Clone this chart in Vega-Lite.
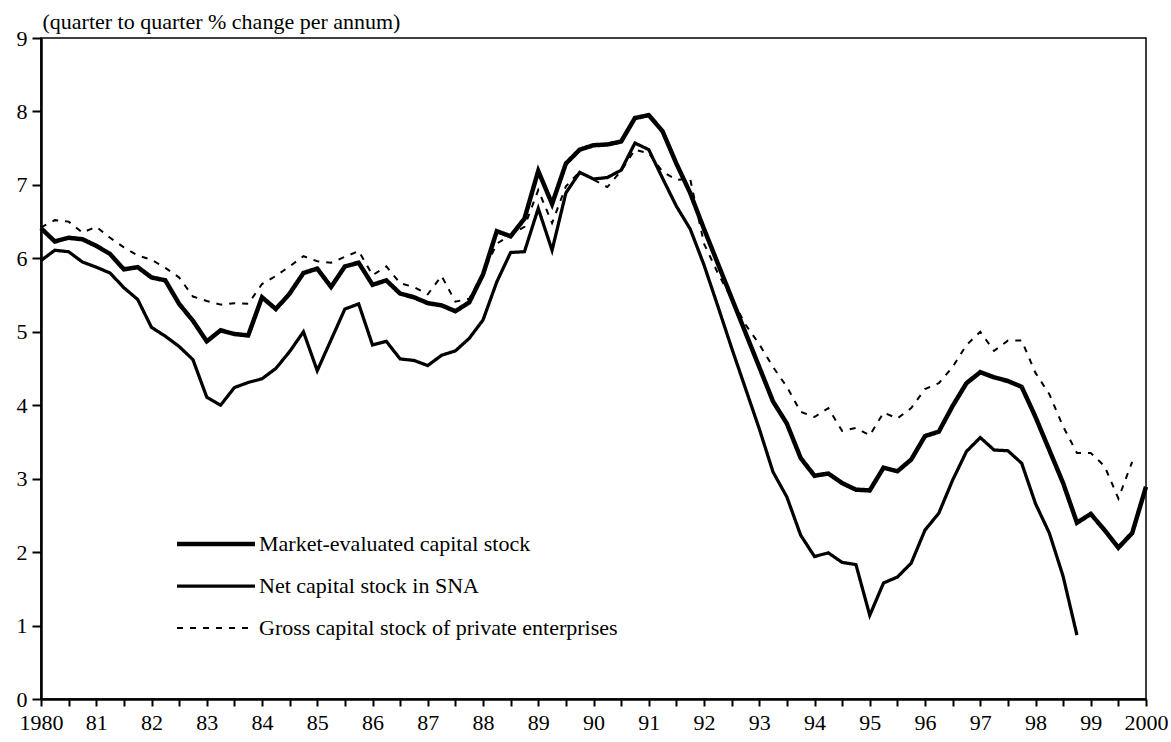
{
  "$schema": "https://vega.github.io/schema/vega-lite/v6.json",
  "width": 1105,
  "height": 661,
  "autosize": {"type": "none"},
  "padding": {"left": 41, "top": 38, "right": 25, "bottom": 43},
  "background": "white",
  "data": {
    "values": [
      {"t": 1980, "m": 6.41, "n": 5.97, "g": 6.42},
      {"t": 1980.25, "m": 6.23, "n": 6.11, "g": 6.52},
      {"t": 1980.5, "m": 6.28, "n": 6.09, "g": 6.50},
      {"t": 1980.75, "m": 6.26, "n": 5.95, "g": 6.35},
      {"t": 1981, "m": 6.17, "n": 5.88, "g": 6.43},
      {"t": 1981.25, "m": 6.06, "n": 5.80, "g": 6.28},
      {"t": 1981.5, "m": 5.85, "n": 5.60, "g": 6.15},
      {"t": 1981.75, "m": 5.88, "n": 5.44, "g": 6.04},
      {"t": 1982, "m": 5.74, "n": 5.06, "g": 5.98},
      {"t": 1982.25, "m": 5.70, "n": 4.94, "g": 5.87},
      {"t": 1982.5, "m": 5.38, "n": 4.80, "g": 5.74},
      {"t": 1982.75, "m": 5.15, "n": 4.62, "g": 5.48},
      {"t": 1983, "m": 4.87, "n": 4.11, "g": 5.42},
      {"t": 1983.25, "m": 5.02, "n": 4.00, "g": 5.37},
      {"t": 1983.5, "m": 4.97, "n": 4.24, "g": 5.39},
      {"t": 1983.75, "m": 4.95, "n": 4.31, "g": 5.38},
      {"t": 1984, "m": 5.47, "n": 4.36, "g": 5.65},
      {"t": 1984.25, "m": 5.31, "n": 4.50, "g": 5.76},
      {"t": 1984.5, "m": 5.52, "n": 4.73, "g": 5.89},
      {"t": 1984.75, "m": 5.80, "n": 5.00, "g": 6.03},
      {"t": 1985, "m": 5.86, "n": 4.47, "g": 5.96},
      {"t": 1985.25, "m": 5.61, "n": 4.89, "g": 5.94},
      {"t": 1985.5, "m": 5.89, "n": 5.31, "g": 6.02},
      {"t": 1985.75, "m": 5.94, "n": 5.38, "g": 6.10},
      {"t": 1986, "m": 5.64, "n": 4.82, "g": 5.77},
      {"t": 1986.25, "m": 5.70, "n": 4.87, "g": 5.89},
      {"t": 1986.5, "m": 5.52, "n": 4.63, "g": 5.66},
      {"t": 1986.75, "m": 5.47, "n": 4.61, "g": 5.61},
      {"t": 1987, "m": 5.39, "n": 4.54, "g": 5.51},
      {"t": 1987.25, "m": 5.36, "n": 4.68, "g": 5.76},
      {"t": 1987.5, "m": 5.28, "n": 4.74, "g": 5.41},
      {"t": 1987.75, "m": 5.40, "n": 4.91, "g": 5.45},
      {"t": 1988, "m": 5.78, "n": 5.16, "g": 5.80},
      {"t": 1988.25, "m": 6.37, "n": 5.68, "g": 6.20},
      {"t": 1988.5, "m": 6.30, "n": 6.08, "g": 6.32},
      {"t": 1988.75, "m": 6.54, "n": 6.09, "g": 6.43},
      {"t": 1989, "m": 7.19, "n": 6.68, "g": 6.93},
      {"t": 1989.25, "m": 6.74, "n": 6.11, "g": 6.48},
      {"t": 1989.5, "m": 7.29, "n": 6.89, "g": 6.98},
      {"t": 1989.75, "m": 7.48, "n": 7.17, "g": 7.18},
      {"t": 1990, "m": 7.54, "n": 7.08, "g": 7.07},
      {"t": 1990.25, "m": 7.55, "n": 7.10, "g": 6.97},
      {"t": 1990.5, "m": 7.59, "n": 7.20, "g": 7.19},
      {"t": 1990.75, "m": 7.91, "n": 7.57, "g": 7.48},
      {"t": 1991, "m": 7.95, "n": 7.48, "g": 7.43},
      {"t": 1991.25, "m": 7.73, "n": 7.09, "g": 7.18},
      {"t": 1991.5, "m": 7.29, "n": 6.71, "g": 7.07},
      {"t": 1991.75, "m": 6.89, "n": 6.40, "g": 7.08},
      {"t": 1992, "m": 6.40, "n": 5.91, "g": 6.20},
      {"t": 1992.25, "m": 5.93, "n": 5.35, "g": 5.80},
      {"t": 1992.5, "m": 5.46, "n": 4.78, "g": 5.45},
      {"t": 1992.75, "m": 4.99, "n": 4.23, "g": 5.10},
      {"t": 1993, "m": 4.52, "n": 3.68, "g": 4.83},
      {"t": 1993.25, "m": 4.05, "n": 3.09, "g": 4.52},
      {"t": 1993.5, "m": 3.75, "n": 2.75, "g": 4.25},
      {"t": 1993.75, "m": 3.28, "n": 2.23, "g": 3.91},
      {"t": 1994, "m": 3.04, "n": 1.94, "g": 3.84},
      {"t": 1994.25, "m": 3.07, "n": 1.99, "g": 3.96},
      {"t": 1994.5, "m": 2.94, "n": 1.86, "g": 3.65},
      {"t": 1994.75, "m": 2.85, "n": 1.83, "g": 3.69},
      {"t": 1995, "m": 2.84, "n": 1.14, "g": 3.59},
      {"t": 1995.25, "m": 3.15, "n": 1.58, "g": 3.90},
      {"t": 1995.5, "m": 3.10, "n": 1.66, "g": 3.82},
      {"t": 1995.75, "m": 3.26, "n": 1.85, "g": 3.96},
      {"t": 1996, "m": 3.58, "n": 2.30, "g": 4.22},
      {"t": 1996.25, "m": 3.64, "n": 2.53, "g": 4.30},
      {"t": 1996.5, "m": 3.99, "n": 2.98, "g": 4.52},
      {"t": 1996.75, "m": 4.30, "n": 3.37, "g": 4.82},
      {"t": 1997, "m": 4.45, "n": 3.56, "g": 5.00},
      {"t": 1997.25, "m": 4.38, "n": 3.39, "g": 4.74},
      {"t": 1997.5, "m": 4.33, "n": 3.38, "g": 4.88},
      {"t": 1997.75, "m": 4.25, "n": 3.21, "g": 4.88},
      {"t": 1998, "m": 3.84, "n": 2.66, "g": 4.44},
      {"t": 1998.25, "m": 3.39, "n": 2.26, "g": 4.15},
      {"t": 1998.5, "m": 2.94, "n": 1.67, "g": 3.71},
      {"t": 1998.75, "m": 2.40, "n": 0.87, "g": 3.35},
      {"t": 1999, "m": 2.52, "g": 3.35},
      {"t": 1999.25, "m": 2.30, "g": 3.17},
      {"t": 1999.5, "m": 2.06, "g": 2.73},
      {"t": 1999.75, "m": 2.26, "g": 3.23},
      {"t": 2000, "m": 2.89}
    ]
  },
  "transform": [
    {"fold": ["m", "n", "g"], "as": ["series", "value"]}
  ],
  "mark": {"type": "line", "color": "black", "strokeJoin": "miter"},
  "encoding": {
    "x": {
      "field": "t",
      "type": "quantitative",
      "scale": {"domain": [1980, 2000], "nice": false, "zero": false},
      "axis": {
        "title": null,
        "grid": false,
        "values": [1980, 1980.5, 1981, 1981.5, 1982, 1982.5, 1983, 1983.5, 1984, 1984.5, 1985, 1985.5, 1986, 1986.5, 1987, 1987.5, 1988, 1988.5, 1989, 1989.5, 1990, 1990.5, 1991, 1991.5, 1992, 1992.5, 1993, 1993.5, 1994, 1994.5, 1995, 1995.5, 1996, 1996.5, 1997, 1997.5, 1998, 1998.5, 1999, 1999.5, 2000],
        "labelExpr": "datum.value % 1 != 0 ? '' : ((datum.value == 1980 || datum.value == 2000) ? format(datum.value, 'd') : slice(format(datum.value, 'd'), 2))",
        "labelOverlap": false,
        "labelFlush": false,
        "labelBound": false,
        "labelPadding": 6,
        "tickSize": 7,
        "tickWidth": 2,
        "domainWidth": 2.5
      }
    },
    "y": {
      "field": "value",
      "type": "quantitative",
      "scale": {"domain": [0, 9], "nice": false},
      "axis": {
        "title": "(quarter to quarter % change per annum)",
        "titleAngle": 0,
        "titleAlign": "left",
        "titleBaseline": "alphabetic",
        "titleX": 1,
        "titleY": -10,
        "titleFont": "Liberation Serif",
        "titleFontSize": 22,
        "titleFontWeight": "normal",
        "titleColor": "black",
        "grid": false,
        "values": [0, 1, 2, 3, 4, 5, 6, 7, 8, 9],
        "labelPadding": 5,
        "tickSize": 9,
        "tickWidth": 2,
        "domainWidth": 2.5
      }
    },
    "strokeWidth": {
      "field": "series",
      "type": "nominal",
      "scale": {"domain": ["m", "n", "g"], "range": [4.5, 2, 2.5]},
      "legend": {
        "title": null,
        "orient": "none",
        "legendX": 163,
        "legendY": 494,
        "symbolType": "M-4,0H4",
        "symbolSize": 380,
        "symbolStrokeColor": "black",
        "rowPadding": 19.5,
        "labelOffset": 31,
        "labelLimit": 0,
        "labelFont": "Liberation Serif",
        "labelFontSize": 22,
        "labelColor": "black",
        "labelExpr": "datum.label == 'm' ? 'Market-evaluated capital stock' : (datum.label == 'n' ? 'Net capital stock in SNA' : 'Gross capital stock of private enterprises')"
      }
    },
    "strokeDash": {
      "field": "series",
      "type": "nominal",
      "scale": {"domain": ["m", "n", "g"], "range": [[1, 0], [1, 0], [6, 7]]}
    }
  },
  "config": {
    "font": "Liberation Serif",
    "view": {"stroke": "black", "strokeWidth": 1.5},
    "axis": {
      "labelFont": "Liberation Serif",
      "labelFontSize": 22,
      "labelColor": "black",
      "domainColor": "black",
      "tickColor": "black"
    }
  }
}
